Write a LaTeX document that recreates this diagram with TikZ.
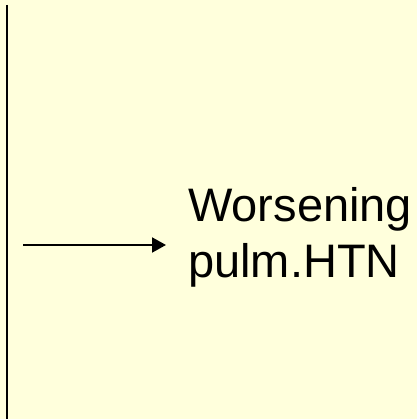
\documentclass[tikz,border=0pt]{standalone}
\usepackage{fontspec}
\setmainfont{Liberation Sans}
\usetikzlibrary{arrows.meta}
\definecolor{paper}{RGB}{255,255,220}
\tikzset{
  rule/.style={line width=2pt, black},
  flow/.style={line width=2pt, black, -{Triangle[length=14pt, width=15pt]}},
  label/.style={inner sep=0pt, align=left, font=\fontsize{47}{56}\selectfont}
}
\begin{document}
\begin{tikzpicture}[x=1pt, y=1pt]
  % page and background
  \fill[paper] (0,0) rectangle (417,419);
  \useasboundingbox (0,0) rectangle (417,419);
  % left border line
  \coordinate (top) at (7,414);
  \coordinate (bottom) at (7,0);
  \draw[rule] (top) -- (bottom);
  % outcome text
  \node[label, anchor=north west] (txt) at (188,232) {Worsening\\pulm.HTN};
  % arrow into the text
  \coordinate (src) at (23,174);
  \coordinate (dst) at (166,174);
  \draw[flow] (src) -- (dst);
\end{tikzpicture}
\end{document}
